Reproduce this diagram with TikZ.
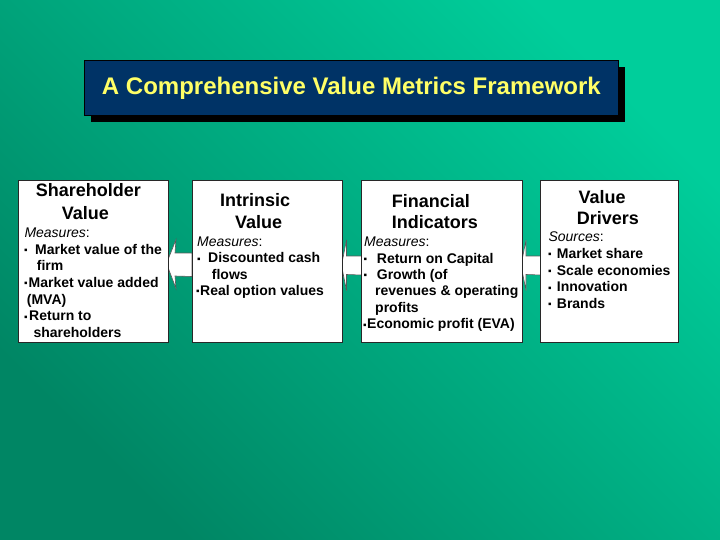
\documentclass[tikz,border=0pt]{standalone}
\usepackage{fontspec}
\setmainfont{Liberation Sans}
\usetikzlibrary{calc,shadows}
\definecolor{bglight}{RGB}{0,206,155}
\definecolor{bgdark}{RGB}{0,134,100}
\definecolor{navy}{RGB}{0,51,102}
\definecolor{ttl}{RGB}{255,255,102}
\definecolor{edge}{RGB}{40,40,40}
\newcommand{\hfnt}{\fontsize{18}{18}\selectfont\bfseries}
\newcommand{\bfnt}{\fontsize{14}{14}\selectfont\bfseries}
\newcommand{\ifnt}{\fontsize{14}{14}\selectfont\mdseries\itshape}
\newcommand{\bu}[1]{\makebox[#1][l]{\raisebox{0.6pt}{\fontsize{10}{10}\selectfont ▪}}}
\begin{document}
\begin{tikzpicture}[x=1pt,y=-1pt,
  box/.style={draw=edge,line width=0.8pt,fill=white,anchor=north west,inner sep=0pt,outer sep=0pt,minimum height=162pt},
  head/.style={anchor=base west,inner sep=0pt,font=\hfnt},
  body/.style={anchor=base west,inner sep=0pt,font=\bfnt},
  blockarrow/.style={fill=white,draw=gray!70!black,line width=0.6pt,line join=miter}]
\useasboundingbox (0,0) rectangle (720,540);
\shade[top color=bglight,bottom color=bgdark,shading angle=-45] (0,0) rectangle (720,540);
% title
\node[draw=black,line width=0.8pt,fill=navy,anchor=north west,minimum width=534pt,minimum height=55pt,inner sep=0pt,
  general shadow={shadow xshift=7pt,shadow yshift=-7pt,fill=black},
  text=ttl,font=\fontsize{24}{24}\selectfont\bfseries] (tb) at (84,60) {A Comprehensive Value Metrics Framework};
% block arrows (drawn under the boxes)
\coordinate (a1) at (192,264.5);
\coordinate (a2) at (361.5,265.5);
\coordinate (a3) at (541,265.5);
\draw[blockarrow] ($(a1)+(0,-11.5)$) -- ++(-17,0) -- ++(1,-13.5) -- ($(a1)+(-25.5,-1)$) -- ($(a1)+(-16,24)$) -- ++(-1,-12.5) -- ($(a1)+(0,12)$) -- cycle;
\draw[blockarrow] ($(a2)+(0,-9.5)$) -- ++(-15,0) -- ++(0,-16) -- ($(a2)+(-20,0)$) -- ($(a2)+(-15,25)$) -- ++(0,-16) -- ($(a2)+(0,9.5)$) -- cycle;
\draw[blockarrow] ($(a3)+(0,-9.5)$) -- ++(-15,0) -- ++(0,-16) -- ($(a3)+(-20,0)$) -- ($(a3)+(-15,25)$) -- ++(0,-16) -- ($(a3)+(0,9.5)$) -- cycle;
% boxes
\node[box,minimum width=150.5pt] (b1) at (18,180) {};
\node[box,minimum width=150.5pt] (b2) at (192,180) {};
\node[box,minimum width=161.5pt] (b3) at (361,180) {};
\node[box,minimum width=138pt] (b4) at (540.5,180) {};
% box 1 text
\node[head] (t11) at (35.7,196.7) {Shareholder};
\node[head] (t12) at (61.7,220) {Value};
\node[body] (t13) at (24.3,237.3) {\ifnt Measures\upshape:};
\node[body] (t14) at (24,254.3) {\bu{11pt}Market value of the};
\node[body] (t15) at (36.7,270.9) {firm};
\node[body] (t16) at (24,287.5) {\bu{4.5pt}Market value added};
\node[body] (t17) at (26.7,304) {(MVA)};
\node[body] (t18) at (24,320.6) {\bu{5pt}Return to};
\node[body] (t19) at (33.3,337.2) {shareholders};
% box 2 text
\node[head] (t21) at (220,207) {Intrinsic};
\node[head] (t22) at (235,228.3) {Value};
\node[body] (t23) at (197,246.5) {\ifnt Measures\upshape:};
\node[body] (t24) at (197,262.8) {\bu{11pt}Discounted cash};
\node[body] (t25) at (211.7,279) {flows};
\node[body] (t26) at (196,295) {\bu{4pt}Real option values};
% box 3 text
\node[head] (t31) at (391.7,207.5) {Financial};
\node[head] (t32) at (391.7,228.3) {Indicators};
\node[body] (t33) at (364,246.7) {\ifnt Measures\upshape:};
\node[body] (t34) at (363.5,263.1) {\bu{13.2pt}Return on Capital};
\node[body] (t35) at (363.5,279.5) {\bu{13.2pt}Growth (of};
\node[body] (t36) at (375,295.9) {revenues \& operating};
\node[body] (t37) at (375,312.3) {profits};
\node[body] (t38) at (363,328.7) {\bu{4pt}Economic profit (EVA)};
% box 4 text
\node[head] (t41) at (578.3,204) {Value};
\node[head] (t42) at (576.7,224.3) {Drivers};
\node[body] (t43) at (548.3,241.7) {\ifnt Sources\upshape:};
\node[body] (t44) at (548,258.3) {\bu{8.7pt}Market share};
\node[body] (t45) at (548,275) {\bu{8.7pt}Scale economies};
\node[body] (t46) at (548,291.7) {\bu{8.7pt}Innovation};
\node[body] (t47) at (548,308.3) {\bu{8.7pt}Brands};
\end{tikzpicture}
\end{document}
